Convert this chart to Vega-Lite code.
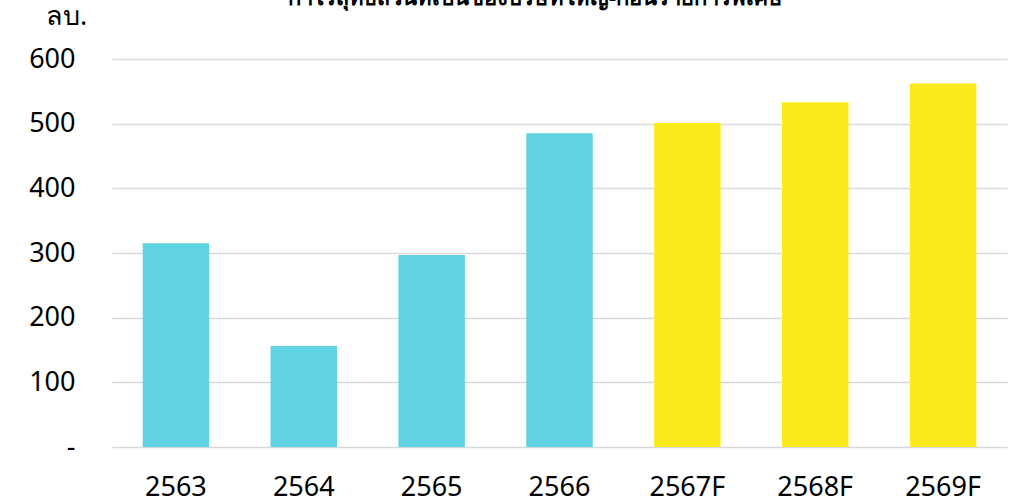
{
  "$schema": "https://vega.github.io/schema/vega-lite/v6.json",
  "autosize": "none",
  "width": 895,
  "height": 388,
  "padding": {"left": 112, "top": 59, "right": 6, "bottom": 57},
  "background": "white",
  "config": {"view": {"stroke": null}},
  "title": {
    "text": "กำไรสุทธิส่วนที่เป็นของบริษัทใหญ่-ก่อนรายการพิเศษ",
    "fontSize": 22,
    "fontWeight": "bold",
    "font": "Noto Sans",
    "color": "#000000",
    "anchor": "middle",
    "baseline": "alphabetic",
    "offset": -25,
    "dx": -24
  },
  "data": {
    "values": [
      {"year": "2563", "value": 315, "type": "actual"},
      {"year": "2564", "value": 156, "type": "actual"},
      {"year": "2565", "value": 297, "type": "actual"},
      {"year": "2566", "value": 485, "type": "actual"},
      {"year": "2567F", "value": 501, "type": "forecast"},
      {"year": "2568F", "value": 533, "type": "forecast"},
      {"year": "2569F", "value": 562, "type": "forecast"}
    ]
  },
  "mark": {"type": "bar"},
  "encoding": {
    "x": {
      "field": "year",
      "type": "nominal",
      "sort": null,
      "scale": {"paddingInner": 0.48, "paddingOuter": 0.24},
      "axis": {
        "title": null,
        "labelAngle": 0,
        "labelFontSize": 27,
        "labelFont": "Noto Sans",
        "labelColor": "#000000",
        "labelPadding": 27,
        "domain": false,
        "ticks": false
      }
    },
    "y": {
      "field": "value",
      "type": "quantitative",
      "scale": {"domain": [0, 600]},
      "axis": {
        "values": [0, 100, 200, 300, 400, 500, 600],
        "labelExpr": "datum.value == 0 ? '-' : datum.label",
        "labelFontSize": 27,
        "labelFont": "Noto Sans",
        "labelColor": "#000000",
        "labelPadding": 37,
        "domain": false,
        "ticks": false,
        "gridColor": "#d9d9d9",
        "gridWidth": 1.5,
        "title": "ลบ.",
        "titleAngle": 0,
        "titleFontSize": 27,
        "titleFont": "Noto Sans",
        "titleFontWeight": "normal",
        "titleColor": "#000000",
        "titleAlign": "center",
        "titleBaseline": "middle",
        "titleX": -46,
        "titleY": -43
      }
    },
    "color": {
      "field": "type",
      "type": "nominal",
      "scale": {"domain": ["actual", "forecast"], "range": ["#5fd3e1", "#fceb1c"]},
      "legend": null
    }
  }
}
